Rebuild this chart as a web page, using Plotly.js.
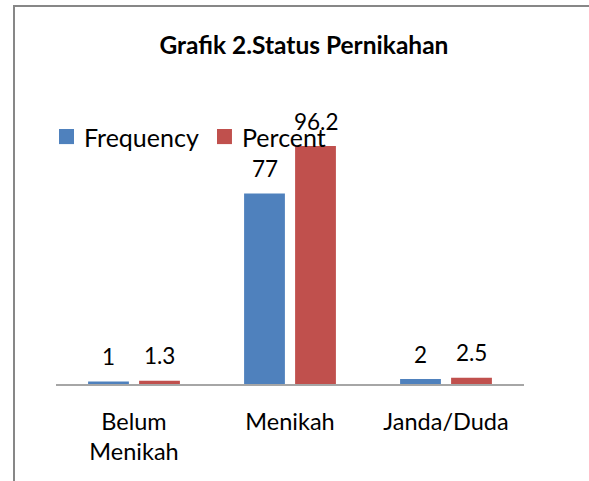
<!DOCTYPE html>
<html><head><meta charset="utf-8">
<script src="https://cdn.plot.ly/plotly-3.0.1.min.js"></script>
<style>
html,body{margin:0;padding:0;background:#fff;}
#wrap{position:relative;width:589px;height:481px;overflow:hidden;}
#chart{position:absolute;left:0;top:0;width:589px;height:481px;}
#frame{position:absolute;left:13px;top:5px;width:600px;height:500px;border-left:2px solid #878787;border-top:2px solid #878787;pointer-events:none;}
</style></head>
<body><div id="wrap"><div id="chart"></div><div id="frame"></div></div>
<script>
const categories = ["Belum<br>Menikah", "Menikah", "Janda/Duda"];
const frequency = [1, 77, 2];
const percent = [1.3, 96.2, 2.5];
const seriesNames = ["Frequency", "Percent"];
const colors = ["#4F81BD", "#C0504D"];
const FONT = "Lato, 'Open Sans', sans-serif";

const traces = [frequency, percent].map((vals, i) => ({
  type: 'bar', x: categories, y: vals, name: seriesNames[i],
  marker: {color: colors[i]}, hoverinfo: 'none', showlegend: false
}));

const annotations = [];
[frequency, percent].forEach((vals, i) => {
  vals.forEach((v, j) => {
    annotations.push({x: categories[j], y: v, xref: 'x', yref: 'y', text: String(v),
      showarrow: false, xshift: i === 0 ? -25.5 : 25.5, yshift: 25,
      font: {family: FONT, size: 22.5, color: '#000'}});
  });
});

// custom legend (positions in paper fractions)
const legendSquares = [[0.0064, 0.0385], [0.344, 0.376]];
const legendTextX = [0.0556, 0.393];
const shapes = [];
seriesNames.forEach((name, i) => {
  shapes.push({type: 'rect', xref: 'paper', yref: 'paper', x0: legendSquares[i][0], x1: legendSquares[i][1],
    y0: 0.882, y1: 0.9375, fillcolor: colors[i], line: {width: 0}});
  annotations.push({xref: 'paper', yref: 'paper', x: legendTextX[i], y: 0.908, xanchor: 'left', yanchor: 'middle',
    text: name, showarrow: false, font: {family: FONT, size: 25, color: '#000'}});
});

const layout = {
  width: 589, height: 481,
  margin: {l: 56, r: 65, t: 112, b: 97},
  paper_bgcolor: '#fff', plot_bgcolor: '#fff',
  title: {text: '<b>Grafik 2.Status Pernikahan</b>', x: 0.516, xanchor: 'center', y: 0.906, yanchor: 'middle',
    font: {family: FONT, size: 24.5, color: '#000'}},
  barmode: 'group', bargap: 0.346, bargroupgap: 0.2,
  xaxis: {showline: true, linecolor: '#a6a6a6', linewidth: 1.5, ticks: '', showgrid: false,
    ticklabelstandoff: 16, tickfont: {family: FONT, size: 23.5, color: '#000'}},
  yaxis: {range: [0, 110], visible: false, showgrid: false, zeroline: false},
  showlegend: false,
  shapes: shapes,
  annotations: annotations
};
Plotly.newPlot('chart', traces, layout, {staticPlot: true, displayModeBar: false});
</script></body></html>
